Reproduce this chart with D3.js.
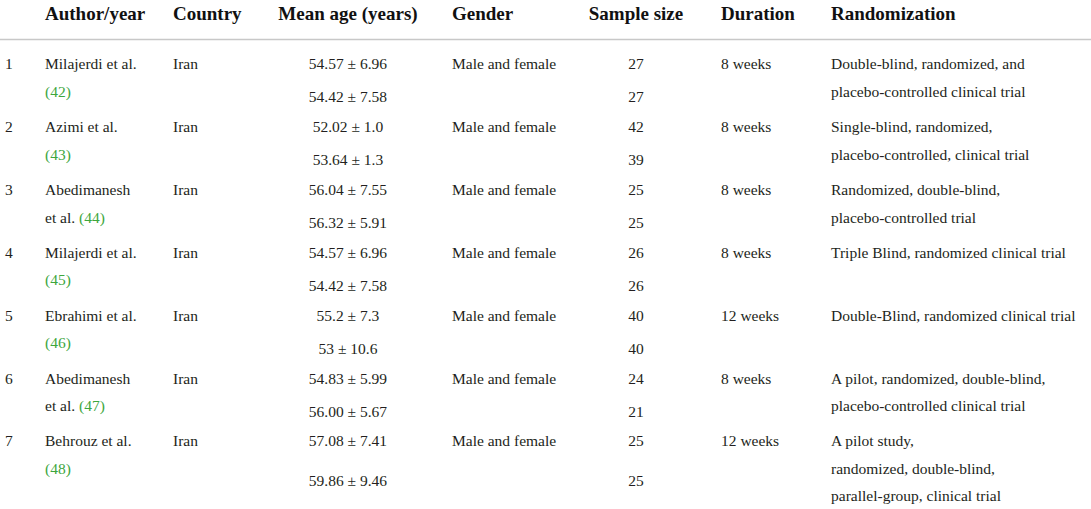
<!DOCTYPE html>
<html>
<head>
<meta charset="utf-8">
<script src="https://cdn.jsdelivr.net/npm/d3@7"></script>
<style>
  body { margin: 0; background: #fff; }
  text { font-family: "Liberation Serif", "DejaVu Serif", serif; fill: #231f20; }
</style>
</head>
<body>
<div id="table"></div>
<script>
const headers = ["Author/year", "Country", "Mean age (years)", "Gender", "Sample size", "Duration", "Randomization"];
const ids = [1, 2, 3, 4, 5, 6, 7];
const authors = [
    ["Milajerdi et al.", ""],
    ["Azimi et al.", ""],
    ["Abedimanesh", "et al. "],
    ["Milajerdi et al.", ""],
    ["Ebrahimi et al.", ""],
    ["Abedimanesh", "et al. "],
    ["Behrouz et al.", ""]
];
const refs = ["(42)", "(43)", "(44)", "(45)", "(46)", "(47)", "(48)"];
const countries = ["Iran", "Iran", "Iran", "Iran", "Iran", "Iran", "Iran"];
const meanAges = [
    ["54.57 ± 6.96", "54.42 ± 7.58"],
    ["52.02 ± 1.0", "53.64 ± 1.3"],
    ["56.04 ± 7.55", "56.32 ± 5.91"],
    ["54.57 ± 6.96", "54.42 ± 7.58"],
    ["55.2 ± 7.3", "53 ± 10.6"],
    ["54.83 ± 5.99", "56.00 ± 5.67"],
    ["57.08 ± 7.41", "59.86 ± 9.46"]
];
const genders = ["Male and female", "Male and female", "Male and female", "Male and female",
    "Male and female", "Male and female", "Male and female"];
const sampleSizes = [[27, 27], [42, 39], [25, 25], [26, 26], [40, 40], [24, 21], [25, 25]];
const durations = ["8 weeks", "8 weeks", "8 weeks", "8 weeks", "12 weeks", "8 weeks", "12 weeks"];
const randomization = [
    ["Double-blind, randomized, and", "placebo-controlled clinical trial"],
    ["Single-blind, randomized,", "placebo-controlled, clinical trial"],
    ["Randomized, double-blind,", "placebo-controlled trial"],
    ["Triple Blind, randomized clinical trial"],
    ["Double-Blind, randomized clinical trial"],
    ["A pilot, randomized, double-blind,", "placebo-controlled clinical trial"],
    ["A pilot study,", "randomized, double-blind,", "parallel-group, clinical trial"]
];

const width = 1091, height = 509;
const lineH = 27.5;
const green = "#3da63d";

// column anchors: [x, text-anchor]
const cols = [
    { x: 45, anchor: "start" },
    { x: 173, anchor: "start" },
    { x: 348, anchor: "middle" },
    { x: 452, anchor: "start" },
    { x: 636, anchor: "middle" },
    { x: 721, anchor: "start" },
    { x: 831, anchor: "start" }
];

const svg = d3.select("#table")
    .append("svg")
    .attr("width", width)
    .attr("height", height);

// first-line centre of each row
const y = d3.scaleLinear()
    .domain([0, ids.length - 1])
    .range([64, 441]);

// header
svg.selectAll(".head")
    .data(headers)
    .enter()
    .append("text")
    .attr("class", "head")
    .attr("x", (d, i) => cols[i].x)
    .attr("y", 13)
    .attr("dy", "0.35em")
    .attr("text-anchor", (d, i) => cols[i].anchor === "middle" ? "middle" : "start")
    .style("font-weight", "bold")
    .style("font-size", "19px")
    .style("fill", "#111")
    .text(d => d);

svg.append("line")
    .attr("x1", 0)
    .attr("x2", width)
    .attr("y1", 39.5)
    .attr("y2", 39.5)
    .attr("stroke", "#c8c8c8")
    .attr("stroke-width", 1.5);

const rows = svg.selectAll(".row")
    .data(ids)
    .enter()
    .append("g")
    .attr("class", "row")
    .attr("transform", (d, i) => `translate(0,${y(i)})`)
    .style("font-size", "15.5px");

function cell(g, x, yy, txt, anchor) {
    return g.append("text")
        .attr("x", x)
        .attr("y", yy)
        .attr("dy", "0.35em")
        .attr("text-anchor", anchor || "start")
        .text(txt);
}

rows.each(function (id, i) {
    const g = d3.select(this);
    const nLines = Math.max(2, randomization[i].length);
    const second = 33 + (nLines - 2) * 7;

    cell(g, 5, 0, id);

    // author with green reference
    cell(g, cols[0].x, 0, authors[i][0]);
    const t2 = cell(g, cols[0].x, lineH, authors[i][1]);
    t2.append("tspan").style("fill", green).text(refs[i]);

    cell(g, cols[1].x, 0, countries[i]);

    cell(g, cols[2].x, 0, meanAges[i][0], "middle");
    cell(g, cols[2].x, second, meanAges[i][1], "middle");

    cell(g, cols[3].x, 0, genders[i]);

    cell(g, cols[4].x, 0, sampleSizes[i][0], "middle");
    cell(g, cols[4].x, second, sampleSizes[i][1], "middle");

    cell(g, cols[5].x, 0, durations[i]);

    randomization[i].forEach((line, k) => cell(g, cols[6].x, k * lineH, line));
});
</script>
</body>
</html>
